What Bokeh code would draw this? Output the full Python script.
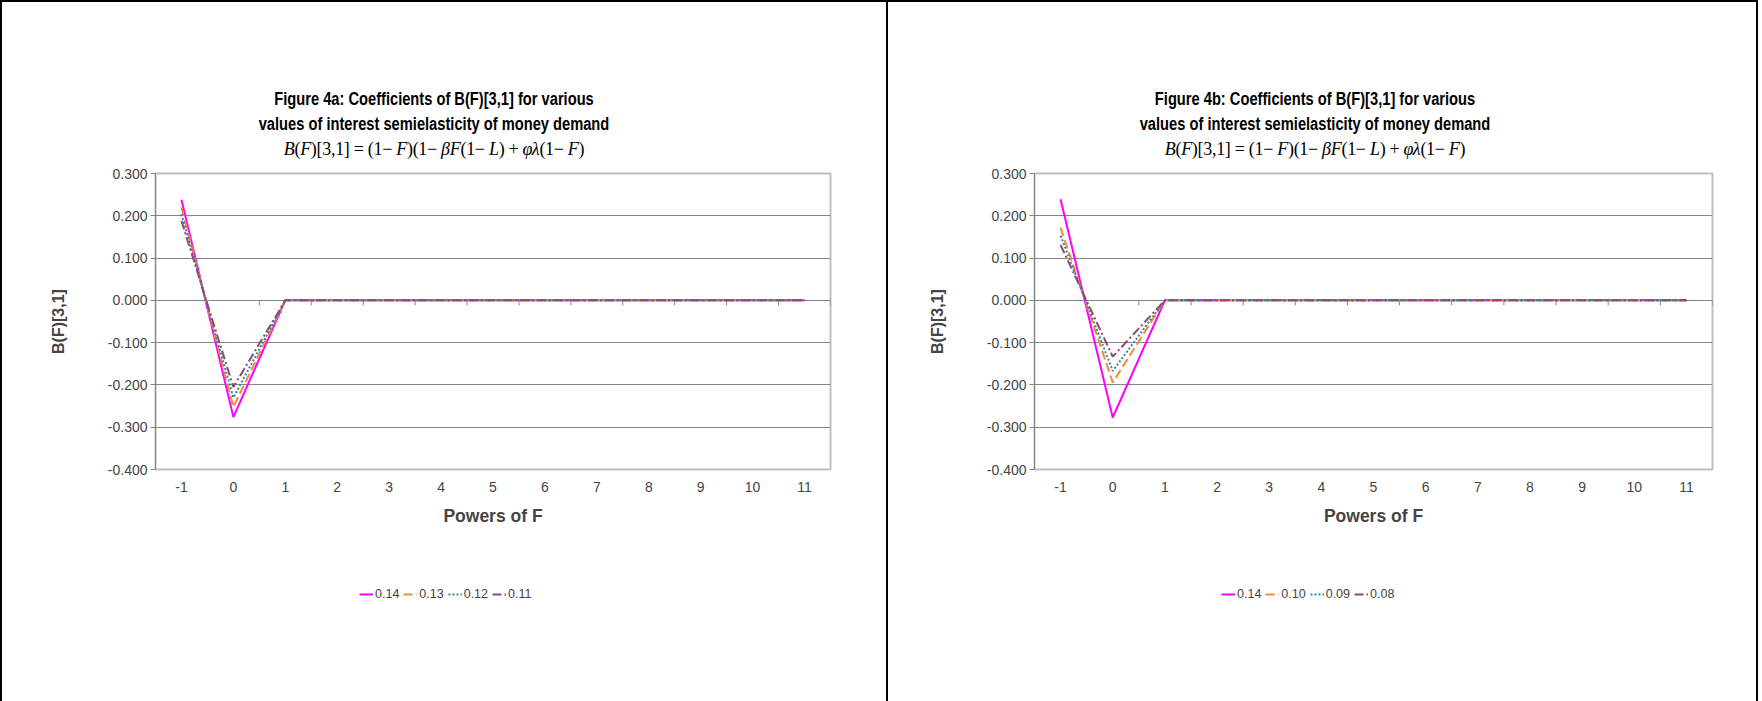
from bokeh.plotting import figure
from bokeh.models import (FixedTicker, NumeralTickFormatter, Legend, LegendItem,
                          Range1d, Div)
from bokeh.layouts import row, column
from bokeh.embed import file_html
from bokeh.resources import INLINE

# ---------------- data ----------------
powers = [-1, 0, 1, 2, 3, 4, 5, 6, 7, 8, 9, 10, 11]
y_ticks = [-0.4, -0.3, -0.2, -0.1, 0.0, 0.1, 0.2, 0.3]

title_a = "Figure 4a: Coefficients of B(F)[3,1] for various"
title_b = "Figure 4b: Coefficients of B(F)[3,1] for various"
subtitle = "values of interest semielasticity of money demand"
formula_html = ("<i>B</i>(<i>F</i>)[3,1] = (1\u2212 <i>F</i>)(1\u2212 <i>\u03b2F</i>(1\u2212 <i>L</i>)"
                " + <i>\u03c6\u03bb</i>(1\u2212 <i>F</i>)")

labels_a = ["0.14", "0.13", "0.12", "0.11"]
a_014 = [0.238, -0.276, 0, 0, 0, 0, 0, 0, 0, 0, 0, 0, 0]
a_013 = [0.220, -0.252, 0, 0, 0, 0, 0, 0, 0, 0, 0, 0, 0]
a_012 = [0.204, -0.230, 0, 0, 0, 0, 0, 0, 0, 0, 0, 0, 0]
a_011 = [0.188, -0.205, 0, 0, 0, 0, 0, 0, 0, 0, 0, 0, 0]

labels_b = ["0.14", "0.10", "0.09", "0.08"]
b_014 = [0.239, -0.277, 0, 0, 0, 0, 0, 0, 0, 0, 0, 0, 0]
b_010 = [0.172, -0.194, 0, 0, 0, 0, 0, 0, 0, 0, 0, 0, 0]
b_009 = [0.153, -0.167, 0, 0, 0, 0, 0, 0, 0, 0, 0, 0, 0]
b_008 = [0.131, -0.133, 0, 0, 0, 0, 0, 0, 0, 0, 0, 0, 0]

colors = ["#FF00FF", "#F28A3A", "#2F8A9C", "#8E4B6E"]
dashes = ["solid", "9 4", "2 2", "9 3 2 3"]
widths = [2, 2, 2, 2]

SANS = "Liberation Sans"
SERIF = "Liberation Serif"
FRAME_H = 296
DIV_H = 162
FIG_TOP = 9
FIG_BOTTOM = 75
FIG_H = FIG_TOP + FRAME_H + FIG_BOTTOM
LEG_H = 699 - DIV_H - FIG_H


def title_div(title, width):
    head = (f"font-family:'{SANS}';font-weight:bold;font-size:18px;line-height:25px;"
            "white-space:nowrap;transform:scaleX(0.815);transform-origin:center;")
    html = (
        f"<div style=\"width:{width}px;padding-top:85px;text-align:center;color:black;\">"
        f"<div style=\"{head}\">{title}</div>"
        f"<div style=\"{head}\">{subtitle}</div>"
        f"<div style=\"font-family:'{SERIF}';font-size:18px;letter-spacing:-0.3px;"
        f"line-height:25px;white-space:nowrap;\">{formula_html}</div>"
        "</div>"
    )
    return Div(text=html, width=width, height=DIV_H, margin=0)


def make_panel(series, width, frame_w, min_left):
    p = figure(width=width, height=FIG_H, output_backend="svg", toolbar_location=None,
               x_range=Range1d(powers[0] - 0.5, powers[-1] + 0.5),
               y_range=Range1d(y_ticks[0], y_ticks[-1]),
               min_border_left=min_left, min_border_top=FIG_TOP,
               min_border_bottom=FIG_BOTTOM,
               min_border_right=width - min_left - frame_w, margin=0)
    p.background_fill_color = "white"
    p.border_fill_color = "white"
    p.outline_line_color = "#BFBFBF"
    p.outline_line_width = 2

    p.xgrid.visible = False
    p.ygrid.ticker = FixedTicker(ticks=y_ticks[:-1])
    p.ygrid.grid_line_color = "#858585"
    p.ygrid.grid_line_width = 1

    ya = p.yaxis[0]
    ya.ticker = FixedTicker(ticks=y_ticks)
    ya.formatter = NumeralTickFormatter(format="0.000")
    ya.axis_line_color = "#868686"
    ya.major_tick_line_color = "#868686"
    ya.major_tick_out = 5
    ya.major_tick_in = 0
    ya.minor_tick_line_color = None
    ya.major_label_text_font = SANS
    ya.major_label_text_font_size = "14px"
    ya.major_label_standoff = 3
    ya.axis_label = "B(F)[3,1]"
    ya.axis_label_text_font = SANS
    ya.axis_label_text_font_style = "bold"
    ya.axis_label_text_font_size = "16px"
    ya.axis_label_standoff = 38

    xa = p.xaxis[0]
    xa.ticker = FixedTicker(ticks=powers)
    xa.major_label_overrides = {c: str(c) for c in powers}
    xa.axis_line_color = None
    xa.major_tick_line_color = None
    xa.minor_tick_line_color = None
    xa.major_label_text_font = SANS
    xa.major_label_text_font_size = "14px"
    xa.major_label_standoff = 6
    xa.axis_label = "Powers of F"
    xa.axis_label_text_font = SANS
    xa.axis_label_text_font_style = "bold"
    xa.axis_label_text_font_size = "17.5px"
    xa.axis_label_standoff = 11

    # category axis crossing at zero: tick marks between categories
    bounds = [c - 0.5 for c in powers] + [powers[-1] + 0.5]
    tick_len = 5 * (y_ticks[-1] - y_ticks[0]) / FRAME_H
    p.segment(x0=bounds, y0=[0.0] * len(bounds), x1=bounds, y1=[-tick_len] * len(bounds),
              line_color="#868686", line_width=1)

    for s, c, d, w in zip(series, colors, dashes, widths):
        p.line(powers, s, line_color=c, line_dash=d, line_width=w)
    return p


def legend_fig(series, labels, width, min_left, frame_w, legend_x):
    # the series are drawn again here (outside the visible x range) only so
    # that the legend has real renderers to sample its glyphs from
    q = figure(width=width, height=LEG_H, output_backend="svg", toolbar_location=None,
               x_axis_type=None, y_axis_type=None,
               x_range=Range1d(powers[-1] + 1, powers[-1] + 2),
               y_range=Range1d(y_ticks[0], y_ticks[-1]),
               min_border_left=min_left, min_border_right=width - min_left - frame_w,
               min_border_top=0, min_border_bottom=0, margin=0)
    q.grid.visible = False
    q.outline_line_color = None
    q.background_fill_color = "white"
    q.border_fill_color = "white"
    items = []
    for s, lab, c, d, w in zip(series, labels, colors, dashes, widths):
        r = q.line(powers, s, line_color=c, line_dash=d, line_width=w)
        items.append(LegendItem(label=lab, renderers=[r]))
    leg = Legend(items=items, orientation="horizontal", location=(legend_x, LEG_H - 39 - 18),
                 border_line_color=None, background_fill_alpha=0,
                 label_text_font=SANS, label_text_font_size="12.5px",
                 glyph_width=14, glyph_height=14, label_standoff=2, spacing=4,
                 padding=2, margin=0, label_height=14)
    q.add_layout(leg)
    return q


ser_a = [a_014, a_013, a_012, a_011]
ser_b = [b_014, b_010, b_009, b_008]
p1 = make_panel(ser_a, 884, 675, 153)
p2 = make_panel(ser_b, 868, 678, 146)

c1 = column(title_div(title_a, 864), p1, legend_fig(ser_a, labels_a, 884, 153, 675, 204),
            spacing=0,
            styles={"border-left": "2px solid black", "border-top": "2px solid black",
                    "border-right": "2px solid black"})
c2 = column(title_div(title_b, 854), p2, legend_fig(ser_b, labels_b, 868, 146, 678, 187),
            spacing=0,
            styles={"border-top": "2px solid black", "border-right": "2px solid black"})

layout = row(c1, c2, spacing=0)
open("out.html", "w").write(file_html(layout, INLINE))
